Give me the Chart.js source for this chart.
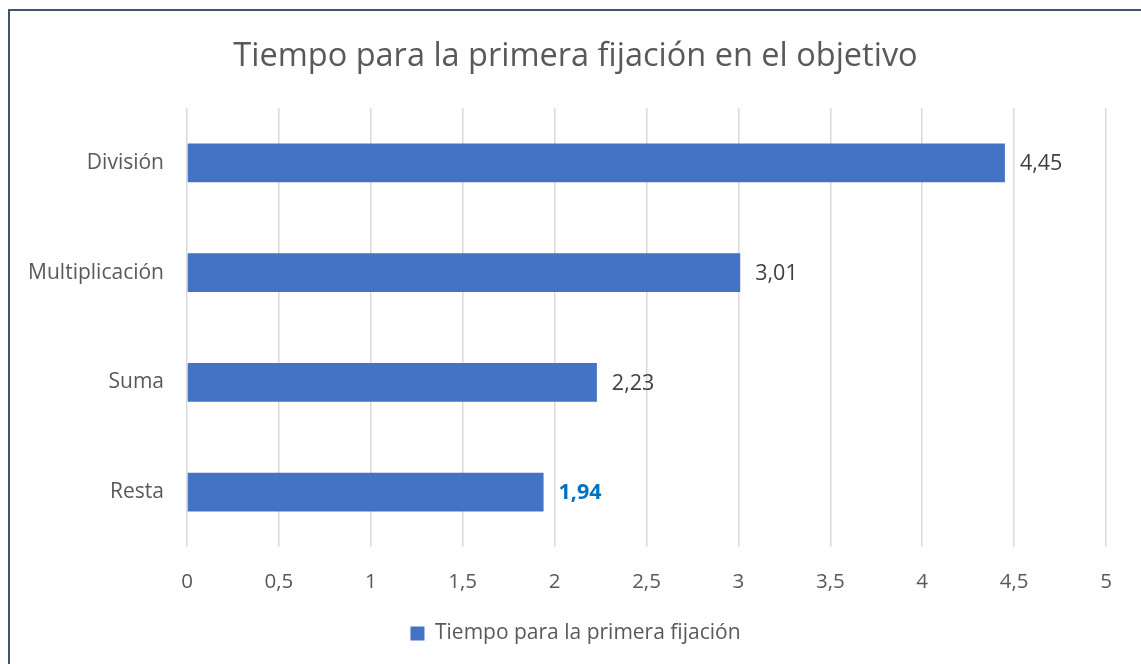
<!DOCTYPE html>
<html>
<head>
<meta charset="utf-8">
<script src="https://cdn.jsdelivr.net/npm/chart.js@4.4.1/dist/chart.umd.min.js"></script>
<style>
  html, body { margin: 0; padding: 0; background: #fff; overflow: hidden; }
  #marco { position: absolute; left: 8px; top: 9px; width: 1200px; height: 720px; border: 2px solid #44546A; box-sizing: border-box; }
  #wrap { position: absolute; left: 0; top: 0; width: 1141px; height: 664px; }
</style>
</head>
<body>
<div id="marco"></div>
<div id="wrap"><canvas id="grafico"></canvas></div>
<script>
// Datos del grafico
var categorias = ['División', 'Multiplicación', 'Suma', 'Resta'];
var valores = [4.45, 3.01, 2.23, 1.94];
var ticksX = [0, 0.5, 1, 1.5, 2, 2.5, 3, 3.5, 4, 4.5, 5];

var fmt = function (v) { return String(v).replace('.', ','); };
var fmt2 = function (v) { return v.toFixed(2).replace('.', ','); };

// Etiquetas de datos a la derecha de cada barra
var etiquetas = {
  id: 'etiquetas',
  afterLayout: function (chart) {
    // que las etiquetas largas del eje Y no se recorten
    chart.scales.y.left = 0;
  },
  afterDatasetsDraw: function (chart) {
    var ctx = chart.ctx;
    var meta = chart.getDatasetMeta(0);
    ctx.save();
    ctx.textBaseline = 'middle';
    ctx.textAlign = 'left';
    meta.data.forEach(function (bar, i) {
      var ultimo = categorias[i] === 'Resta';
      ctx.font = (ultimo ? 'bold ' : '') + '21.5px "Open Sans"';
      ctx.fillStyle = ultimo ? '#0070C0' : '#404040';
      ctx.fillText(fmt2(valores[i]), bar.x + 15, bar.y + 1);
    });
    ctx.restore();
  }
};

var ctx = document.getElementById('grafico').getContext('2d');
var grafico = new Chart(ctx, {
  type: 'bar',
  data: {
    labels: categorias,
    datasets: [{
      label: 'Tiempo para la primera fijación',
      data: valores,
      backgroundColor: '#4472C4',
      borderWidth: 0,
      barPercentage: 0.71,
      categoryPercentage: 0.5
    }]
  },
  options: {
    indexAxis: 'y',
    responsive: true,
    maintainAspectRatio: false,
    animation: false,
    layout: { padding: { left: 45, right: 35, top: 0, bottom: 10 } },
    scales: {
      x: {
        min: 0,
        max: 5,
        afterBuildTicks: function (scale) {
          scale.ticks = ticksX.map(function (v) { return { value: v }; });
        },
        afterFit: function (scale) { scale.height = 68; },
        grid: { color: '#D9D9D9', lineWidth: 1.5, drawTicks: false },
        border: { display: false },
        ticks: {
          padding: 23,
          color: '#595959',
          font: { family: 'Open Sans', size: 20.5 },
          callback: function (v) { return fmt(v); }
        }
      },
      y: {
        grid: { display: false, drawTicks: false },
        border: { display: false },
        afterFit: function (scale) { scale.width = 142; },
        ticks: {
          padding: 23,
          color: '#595959',
          font: { family: 'Open Sans', size: 21 }
        }
      }
    },
    plugins: {
      title: {
        display: true,
        text: 'Tiempo para la primera fijación en el objetivo',
        color: '#595959',
        font: { family: 'Open Sans', size: 32.5, weight: 'normal' },
        padding: { top: 37, bottom: 32 }
      },
      legend: {
        position: 'bottom',
        labels: {
          color: '#595959',
          font: { family: 'Open Sans', size: 21 },
          boxWidth: 14,
          boxHeight: 14,
          padding: 8
        }
      },
      tooltip: { enabled: false }
    }
  },
  plugins: [etiquetas]
});
</script>
</body>
</html>
